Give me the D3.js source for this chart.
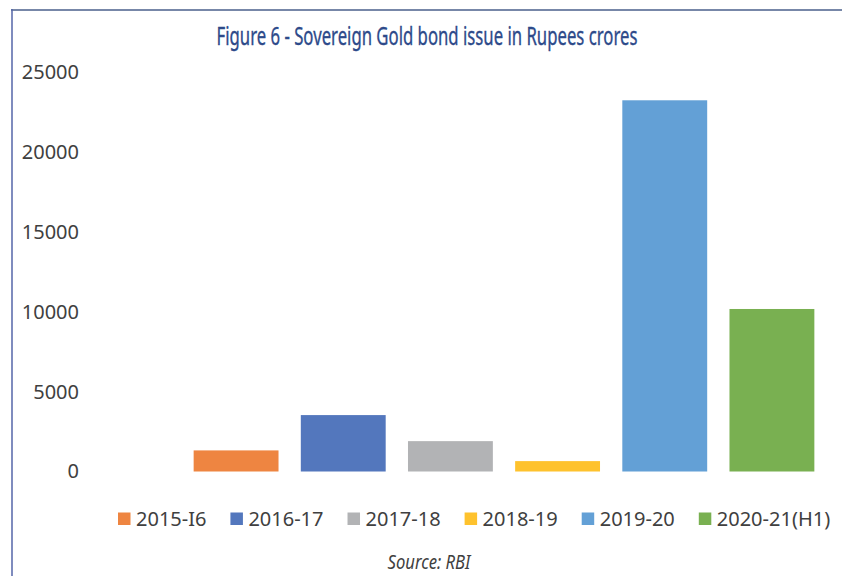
<!DOCTYPE html>
<html>
<head>
<meta charset="utf-8">
<script src="https://cdn.jsdelivr.net/npm/d3@7/dist/d3.min.js"></script>
<style>
  html, body { margin: 0; padding: 0; background: #fff; }
  svg { display: block; }
</style>
</head>
<body>
<svg id="chart" width="842" height="576"></svg>
<script>
// Sovereign Gold Bond issuance by financial year (Rs crore)
const years = ["2015-I6", "2016-17", "2017-18", "2018-19", "2019-20", "2020-21(H1)"];
const issued = [1320, 3530, 1900, 650, 23230, 10170];
const colors = ["#ee8541", "#5377bd", "#b2b3b5", "#fec22d", "#63a0d6", "#79b051"];
const yTicks = [0, 5000, 10000, 15000, 20000, 25000];
const titleText = "Figure 6 - Sovereign Gold bond issue in Rupees crores";
const sourceText = "Source: RBI";

const svg = d3.select("#chart");
const font = "'Noto Sans', 'Open Sans', sans-serif";
const textColor = "#404040";

svg.append("rect").attr("width", 842).attr("height", 576).attr("fill", "#fff");

// frame lines (top and left)
svg.append("line").attr("x1", 11).attr("x2", 842).attr("y1", 10).attr("y2", 10)
  .attr("stroke", "#7787a8").attr("stroke-width", 2);
svg.append("line").attr("x1", 12).attr("x2", 12).attr("y1", 9).attr("y2", 576)
  .attr("stroke", "#5566a8").attr("stroke-width", 1.5);

// condensed text: draw normally, then squeeze horizontally to the wanted width
function condensed(sel, cx, baseline, width) {
  const w = sel.node().getComputedTextLength();
  sel.attr("x", 0).attr("y", 0)
    .attr("transform", `translate(${cx},${baseline}) scale(${width / w},1)`);
}

// title
const title = svg.append("text")
  .attr("text-anchor", "middle")
  .attr("font-family", font).attr("font-size", 25)
  .attr("fill", "#2d4a8a")
  .attr("stroke", "#2d4a8a").attr("stroke-width", 0.35)
  .text(titleText);
condensed(title, 427, 45, 421);

// scales
const y = d3.scaleLinear().domain([0, 25000]).range([471.5, 72]);
const x = d3.scaleBand().domain(years).range([182.5, 825.5])
  .paddingInner(0.208).paddingOuter(0.104);

// y axis: labels only
const yAxis = svg.append("g")
  .attr("transform", "translate(80,0)")
  .call(d3.axisLeft(y).tickValues(yTicks).tickSize(0).tickPadding(1).tickFormat(d3.format("d")));
yAxis.select(".domain").remove();
yAxis.selectAll("text")
  .attr("font-family", font).attr("font-size", 20).attr("fill", textColor);

// bars
svg.append("g").selectAll("rect")
  .data(years)
  .join("rect")
  .attr("x", d => x(d))
  .attr("width", x.bandwidth())
  .attr("y", (d, i) => y(issued[i]))
  .attr("height", (d, i) => y(0) - y(issued[i]))
  .attr("fill", (d, i) => colors[i]);

// legend
const legend = svg.append("g").attr("transform", "translate(118,519)");
let lx = 0;
years.forEach((yr, i) => {
  const g = legend.append("g").attr("transform", `translate(${lx},0)`);
  g.append("rect").attr("x", 0).attr("y", -6.5).attr("width", 12.5).attr("height", 12.5)
    .attr("fill", colors[i]);
  const t = g.append("text").attr("x", 18).attr("y", 0).attr("dy", "0.36em")
    .attr("font-family", font).attr("font-size", 20).attr("fill", textColor)
    .text(yr);
  lx += 18 + t.node().getComputedTextLength() + 24;
});

// source note
const source = svg.append("text")
  .attr("text-anchor", "middle")
  .attr("font-family", font).attr("font-size", 19).attr("font-style", "italic")
  .attr("fill", textColor)
  .text(sourceText);
condensed(source, 429, 569, 83);
</script>
</body>
</html>
